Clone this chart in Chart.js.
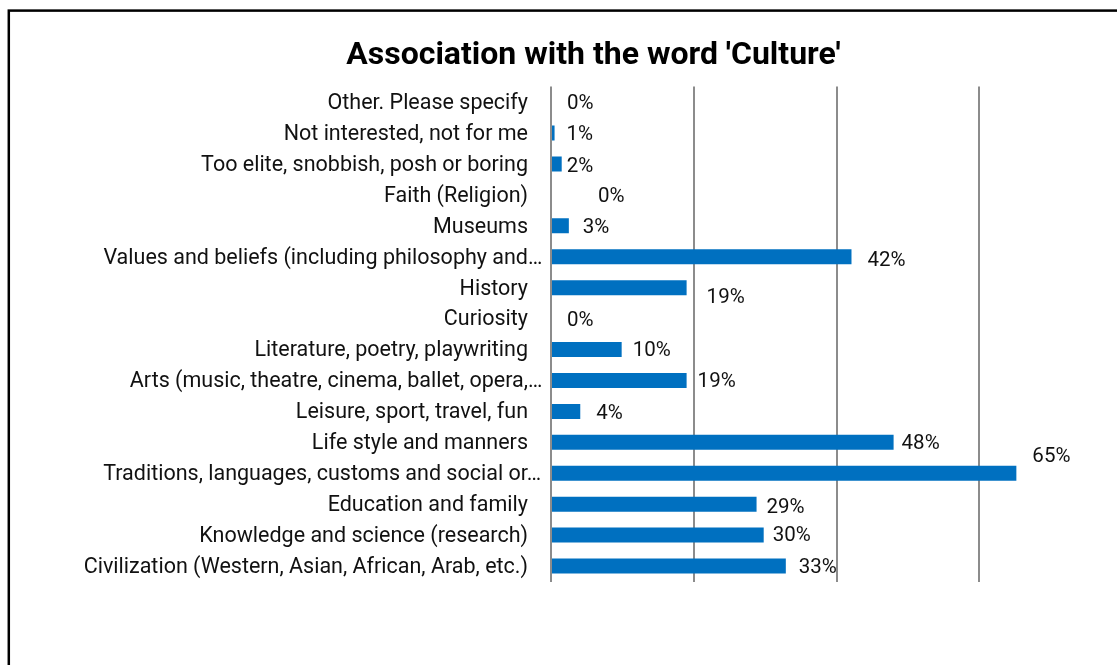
<!DOCTYPE html>
<html>
<head>
<meta charset="utf-8">
<title>Association with the word 'Culture'</title>
<script src="https://cdn.jsdelivr.net/npm/chart.js@4/dist/chart.umd.min.js"></script>
<style>
  html, body { margin: 0; padding: 0; background: #fff; overflow: hidden; }
  canvas { display: block; }
</style>
</head>
<body>
<canvas id="cultureChart" width="1180" height="700"></canvas>
<script>
// categories, top to bottom as in the original
const categories = [
  'Other. Please specify',
  'Not interested, not for me',
  'Too elite, snobbish, posh or boring',
  'Faith (Religion)',
  'Museums',
  'Values and beliefs (including philosophy and\u2026',
  'History',
  'Curiosity',
  'Literature, poetry, playwriting',
  'Arts (music, theatre, cinema, ballet, opera,\u2026',
  'Leisure, sport, travel, fun',
  'Life style and manners',
  'Traditions, languages, customs and social or\u2026',
  'Education and family',
  'Knowledge and science (research)',
  'Civilization (Western, Asian, African, Arab, etc.)'
];

// share of answers (%)
const shares = [0, 0.5, 1.5, 0, 2.5, 42.1, 19.0, 0, 9.9, 19.0, 4.1, 48.0, 65.2, 28.8, 29.8, 32.9];

// the rounded labels printed next to the bars
const shareLabels = ['0%', '1%', '2%', '0%', '3%', '42%', '19%', '0%', '10%', '19%', '4%', '48%', '65%', '29%', '30%', '33%'];

// vertical grid lines
const gridTicks = [0, 20, 40, 60, 80];

// the data labels were moved by hand in the original, so nudge them the same way
const labelDx = [16, 12, 5, 47, 14, 16, 20, 16, 11, 11, 16, 8, 16, 10, 9, 13];
const labelDy = [2, 2, 3, 2, 2, 4, 10, 2.5, 1.5, 1.5, 2, 1.5, -16, 4, 1, 2];

Chart.defaults.font.family = 'Roboto';
Chart.defaults.color = '#111';

// outer frame of the chart, it runs off the page on the right and bottom
const framePlugin = {
  id: 'frame',
  beforeDraw(chart) {
    const ctx = chart.ctx;
    ctx.save();
    ctx.fillStyle = '#fff';
    ctx.fillRect(0, 0, chart.width, chart.height);
    ctx.strokeStyle = '#000';
    ctx.lineWidth = 2.5;
    ctx.strokeRect(8.8, 10.6, chart.width - 11, chart.height);
    ctx.restore();
  }
};

// category names, right aligned; cut-off names let the ellipsis hang past the edge
const categoryLabels = {
  id: 'categoryLabels',
  afterDraw(chart) {
    const ctx = chart.ctx;
    const yScale = chart.scales.y;
    const right = chart.chartArea.left - 23;
    ctx.save();
    ctx.font = '21.5px Roboto';
    ctx.fillStyle = '#111';
    ctx.textAlign = 'left';
    ctx.textBaseline = 'middle';
    categories.forEach((name, i) => {
      const base = name.endsWith('\u2026') ? name.slice(0, -1) : name;
      const x = right - ctx.measureText(base).width;
      ctx.fillText(name, x, yScale.getPixelForValue(i) + 1.5);
    });
    ctx.restore();
  }
};

// percentage labels next to each bar
const valueLabels = {
  id: 'valueLabels',
  afterDatasetsDraw(chart) {
    const ctx = chart.ctx;
    const meta = chart.getDatasetMeta(0);
    ctx.save();
    ctx.font = '20.5px Roboto';
    ctx.fillStyle = '#111';
    ctx.textAlign = 'left';
    ctx.textBaseline = 'middle';
    meta.data.forEach((bar, i) => {
      ctx.fillText(shareLabels[i], bar.x + labelDx[i], bar.y + labelDy[i]);
    });
    ctx.restore();
  }
};

const config = {
  type: 'bar',
  data: {
    labels: categories,
    datasets: [{
      data: shares,
      backgroundColor: '#0070C0',
      borderWidth: 0,
      barPercentage: 0.485,
      categoryPercentage: 1
    }]
  },
  options: {
    indexAxis: 'y',
    responsive: false,
    animation: false,
    devicePixelRatio: 1,
    layout: {
      padding: { left: 65, right: 58, top: 0, bottom: 118.5 }
    },
    scales: {
      x: {
        min: 0,
        max: 80,
        afterBuildTicks: scale => { scale.ticks = gridTicks.map(v => ({ value: v })); },
        afterFit: scale => { scale.height = 0; },
        grid: { color: '#8c8c8c', lineWidth: 2, drawTicks: false },
        border: { display: false },
        ticks: { display: false }
      },
      y: {
        afterFit: scale => { scale.width = 551 - 65; },
        grid: { display: false },
        border: { display: false },
        ticks: { display: false }
      }
    },
    plugins: {
      legend: { display: false },
      tooltip: { enabled: false },
      title: {
        display: true,
        text: "Association with the word 'Culture'",
        color: '#000',
        font: { family: 'Roboto', size: 32, weight: 'bold' },
        padding: { top: 37, bottom: 11.2 }
      }
    }
  },
  plugins: [framePlugin, categoryLabels, valueLabels]
};

const cultureChart = new Chart(document.getElementById('cultureChart').getContext('2d'), config);
</script>
</body>
</html>
